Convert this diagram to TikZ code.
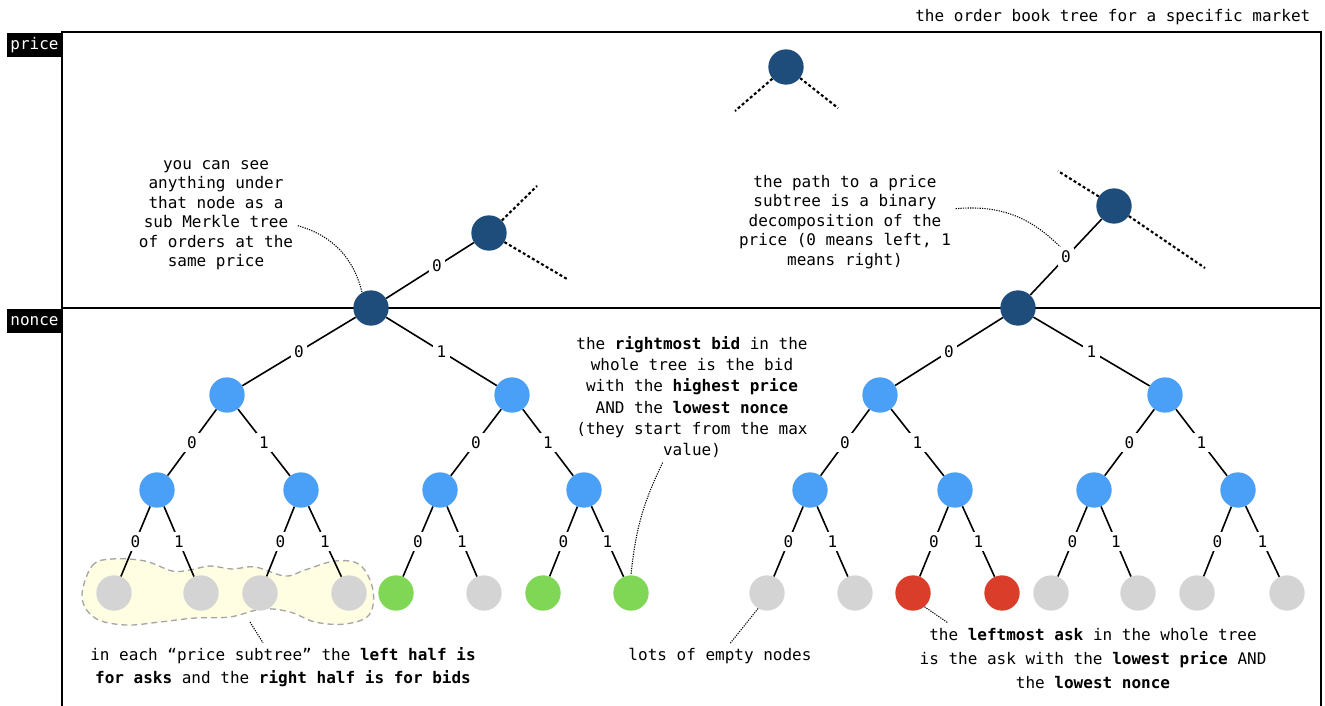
\documentclass[tikz,border=0pt]{standalone}
\usepackage{fontspec}
\setmainfont{DejaVu Sans Mono}
\setmonofont{DejaVu Sans Mono}
\definecolor{pricec}{HTML}{1E4D7B}
\definecolor{noncec}{HTML}{4A9FF6}
\definecolor{bidc}{HTML}{80D655}
\definecolor{askc}{HTML}{DA3D29}
\definecolor{emptyc}{HTML}{D4D4D4}
\definecolor{halfc}{HTML}{FFFDE2}

\begin{document}
\begin{tikzpicture}[x=0.75pt,y=-0.75pt,font=\fontsize{12}{14.6}\selectfont,
  frame/.style={line width=1.5pt},
  edge/.style={line width=1.2pt},
  stub/.style={line width=1.6pt,dash pattern=on 2.2pt off 1.8pt},
  note/.style={line width=0.8pt,dash pattern=on 0.9pt off 0.9pt},
  dot/.style={circle,fill=#1,inner sep=0pt,minimum size=26.5pt},
  bit/.style={fill=white,inner sep=2.5pt,midway},
  tag/.style={fill=black,text=white,minimum width=41pt,minimum height=18pt,inner sep=0pt},
  txt/.style={align=center}]
  \useasboundingbox (0,0) rectangle (1325,706);

  % left half of the first price subtree
  \draw[fill=halfc,draw=black!35,line width=1pt,dash pattern=on 4.5pt off 3pt]
    plot[smooth cycle,tension=0.6] coordinates {(82,597) (92,566) (112,559) (145,561) (172,571) (190,570)
      (210,566) (232,569) (255,567) (285,576) (305,570) (335,561) (360,565) (373,590) (369,615)
      (345,624) (315,622) (290,612) (262,609) (230,617) (195,618) (160,622) (125,625) (95,618)};

  \draw[frame] (62,706) -- (62,32) -- (1321,32) -- (1321,706);
  \draw[frame] (62,308) -- (1321,308);
  \node[tag] (priceTag) at (34.5,45) {price};
  \node[tag] (nonceTag) at (34.5,321) {nonce};
  \node[anchor=east] (title) at (1315,17) {the order book tree for a specific market};

  \foreach \n/\x/\y/\c in {ptop/786/67/pricec,plow/489/233/pricec,phigh/1114/206/pricec,
      lroot/371/308/pricec,rroot/1018/308/pricec,
      l0/227/395/noncec,l1/512/395/noncec,r0/880/395/noncec,r1/1165/395/noncec,
      l00/157/490/noncec,l01/301/490/noncec,l10/440/490/noncec,l11/584/490/noncec,
      r00/810/490/noncec,r01/955/490/noncec,r10/1094/490/noncec,r11/1238/490/noncec,
      l000/114/593/emptyc,l001/201/593/emptyc,l010/260/593/emptyc,l011/349/593/emptyc,
      l100/396/593/bidc,l101/484/593/emptyc,l110/543/593/bidc,l111/631/593/bidc,
      r000/767/593/emptyc,r001/855/593/emptyc,r010/913/593/askc,r011/1002/593/askc,
      r100/1051/593/emptyc,r101/1138/593/emptyc,r110/1197/593/emptyc,r111/1287/593/emptyc}
    \node[dot=\c] (\n) at (\x,\y) {};

  \foreach \a/\b/\bit in {lroot/l0/0,lroot/l1/1,rroot/r0/0,rroot/r1/1,
      l0/l00/0,l0/l01/1,l1/l10/0,l1/l11/1,r0/r00/0,r0/r01/1,r1/r10/0,r1/r11/1,
      l00/l000/0,l00/l001/1,l01/l010/0,l01/l011/1,l10/l100/0,l10/l101/1,l11/l110/0,l11/l111/1,
      r00/r000/0,r00/r001/1,r01/r010/0,r01/r011/1,r10/r100/0,r10/r101/1,r11/r110/0,r11/r111/1}
    \draw[edge] (\a) -- node[bit] {\bit} (\b);
  \draw[edge] (plow) -- node[bit,pos=0.42] (plowBit) {0} (lroot);
  \draw[edge] (phigh) -- node[bit] (phighBit) {0} (rroot);

  \coordinate (ptopL) at (735,111);
  \coordinate (ptopR) at (838,108);
  \coordinate (plowU) at (537,186);
  \coordinate (plowD) at (567,279);
  \coordinate (phighU) at (1058,171);
  \coordinate (phighD) at (1205,268);
  \draw[stub] (ptop) -- (ptopL) (ptop) -- (ptopR);
  \draw[stub] (plow) -- (plowU) (plow) -- (plowD);
  \draw[stub] (phigh) -- (phighU) (phigh) -- (phighD);

  \node[txt] (seeNote) at (216,215) {you can see\\anything under\\that node as a\\sub Merkle tree\\of orders at the\\same price};
  \node[txt] (pathNote) at (845,222) {the path to a price\\subtree is a binary\\decomposition of the\\price (0 means left, 1\\means right)};
  \node[txt,font=\fontsize{12}{16}\selectfont] (bidNote) at (692,397)
    {the \textbf{rightmost bid} in the\\whole tree is the bid\\with the \textbf{highest price}\\AND the \textbf{lowest nonce}\\(they start from the max\\value)};
  \node[txt,font=\fontsize{12}{17}\selectfont] (halfNote) at (283,667)
    {in each “price subtree” the \textbf{left half is}\\\textbf{for asks} and the \textbf{right half is for bids}};
  \node[txt] (emptyNote) at (720,656) {lots of empty nodes};
  \node[txt,font=\fontsize{12}{18}\selectfont] (askNote) at (1093,658)
    {the \textbf{leftmost ask} in the whole tree\\is the ask with the \textbf{lowest price} AND\\the \textbf{lowest nonce}};

  \coordinate (halfTip) at (250,622);
  \draw[note] ([yshift=-8pt]seeNote.east) to[bend left=30] (lroot.120);
  \draw[note] ([yshift=10pt]pathNote.east) to[bend left=25] (phighBit.120);
  \draw[note] ([xshift=-22pt]bidNote.south) to[bend right=10] (l111.north);
  \draw[note] (halfTip) -- ([xshift=-15pt]halfNote.north);
  \draw[note] (r000.240) -- ([xshift=7.5pt]emptyNote.north);
  \draw[note] (r010.-50) -- ([xshift=25pt]askNote.north west);
\end{tikzpicture}
\end{document}
